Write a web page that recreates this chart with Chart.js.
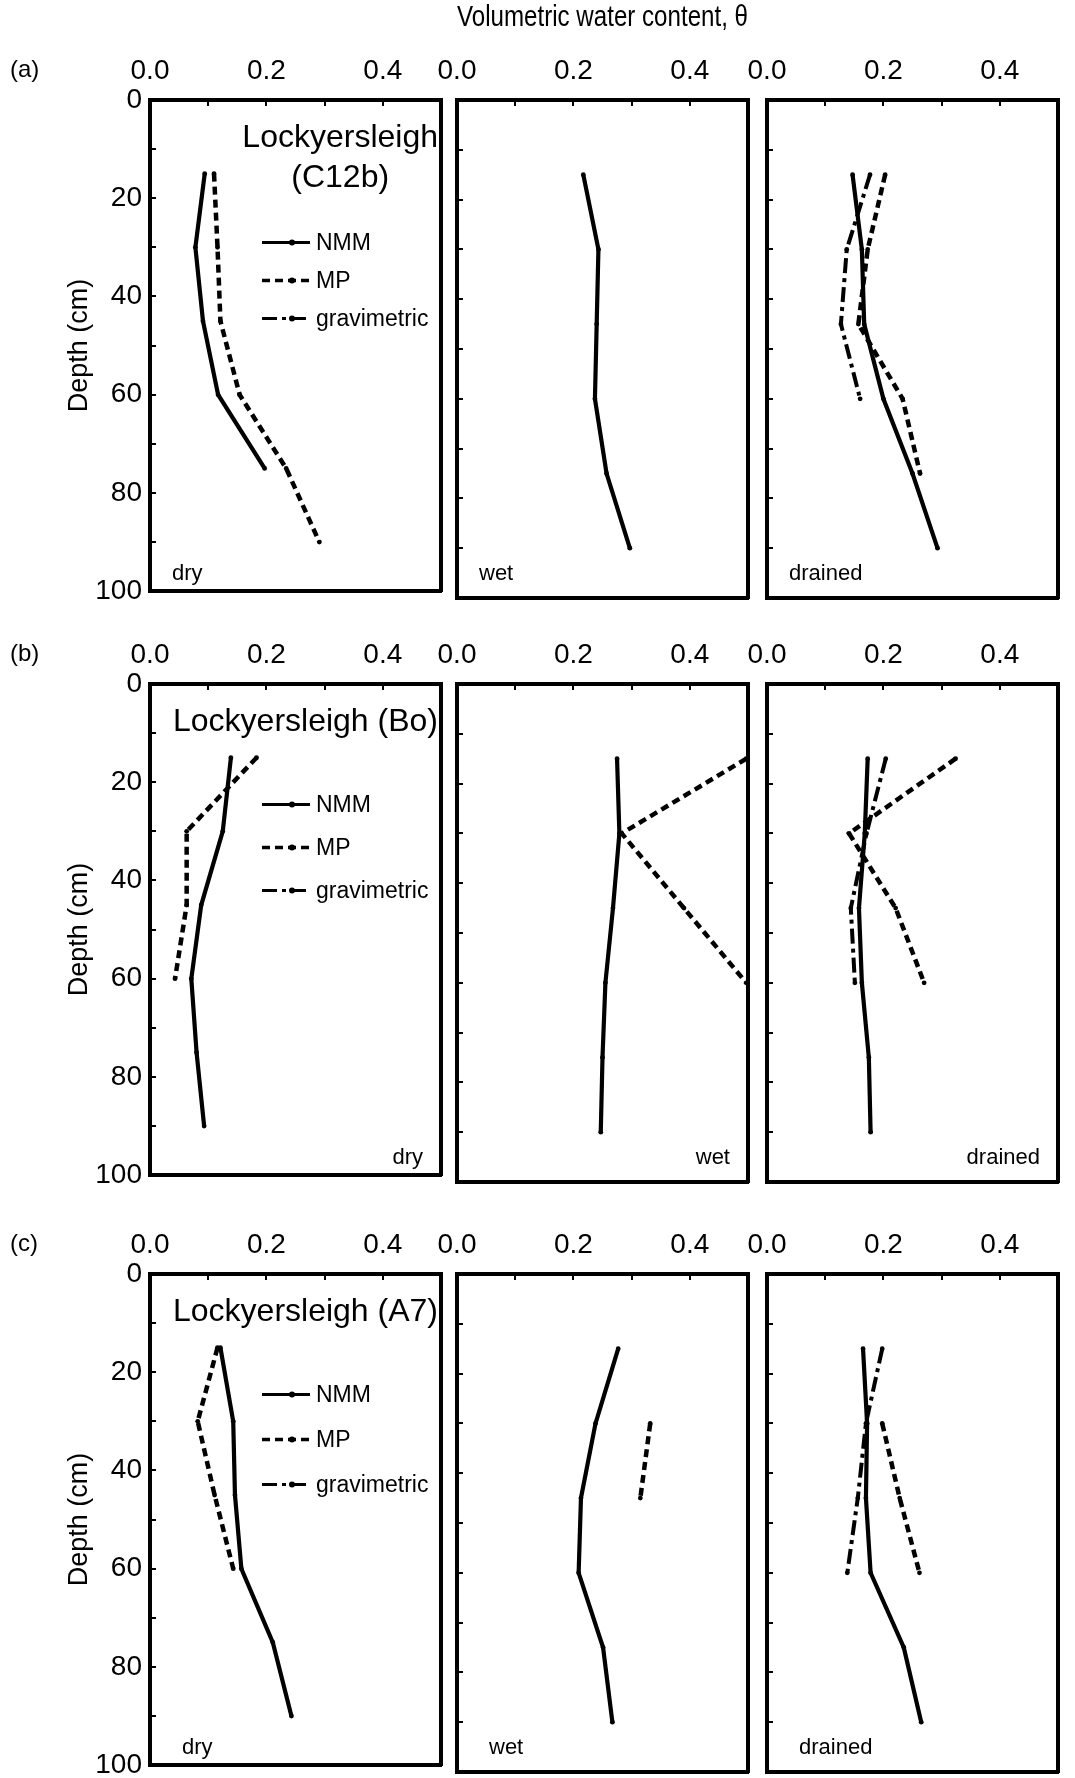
<!DOCTYPE html>
<html>
<head>
<meta charset="utf-8">
<script src="https://cdn.jsdelivr.net/npm/chart.js@4.4.1/dist/chart.umd.min.js"></script>
<style>
  html, body { margin: 0; padding: 0; background: #fff; }
  #fig { position: relative; width: 1075px; height: 1778px; overflow: hidden;
         font-family: "Liberation Sans", Arial, Helvetica, sans-serif; color: #000; }
  #fig canvas { position: absolute; }
  .txt { position: absolute; white-space: nowrap; line-height: 1; transform: translateY(-50%); }
  .leg { position: absolute; display: flex; align-items: center; transform: translateY(-50%); font-size: 23px; }
  .leg svg { margin-right: 6px; }
</style>
</head>
<body>
<div id="fig"></div>
<script>
// depth of each reading (cm)
var depths = [15, 30, 45, 60, 75, 90];

var rowTags = ["(a)", "(b)", "(c)"];
var siteNames = [["Lockyersleigh", "(C12b)"], ["Lockyersleigh (Bo)"], ["Lockyersleigh (A7)"]];
var conditions = ["dry", "wet", "drained"];
var methods = ["NMM", "MP", "gravimetric"];
var thetaLabels = [0, 0.2, 0.4];
var depthLabels = [0, 20, 40, 60, 80, 100];

// (a) Lockyersleigh (C12b), volumetric water content
var c12bDryNMM = [0.094, 0.078, 0.091, 0.117, 0.197, null];
var c12bDryMP = [0.110, 0.116, 0.121, 0.154, 0.234, 0.291];
var c12bWetNMM = [0.217, 0.243, 0.240, 0.237, 0.257, 0.297];
var c12bDrainedNMM = [0.147, 0.163, 0.167, 0.200, 0.250, 0.293];
var c12bDrainedMP = [0.203, 0.173, 0.157, 0.233, 0.263, null];
var c12bDrainedGrav = [0.177, 0.137, 0.127, 0.160, null, null];

// (b) Lockyersleigh (Bo)
var boDryNMM = [0.139, 0.125, 0.088, 0.071, 0.080, 0.093];
var boDryMP = [0.183, 0.063, 0.063, 0.043, null, null];
var boWetNMM = [0.275, 0.279, 0.268, 0.255, 0.250, 0.247];
var boWetMP = [0.497, 0.283, 0.390, 0.497, null, null];
var boDrainedNMM = [0.173, 0.168, 0.158, 0.163, 0.175, 0.178];
var boDrainedMP = [0.324, 0.141, 0.221, 0.270, null, null];
var boDrainedGrav = [0.204, 0.171, 0.144, 0.151, null, null];

// (c) Lockyersleigh (A7)
var a7DryNMM = [0.121, 0.143, 0.146, 0.157, 0.211, 0.243];
var a7DryMP = [0.116, 0.082, 0.111, 0.143, null, null];
var a7WetNMM = [0.277, 0.238, 0.213, 0.209, 0.251, 0.267];
var a7WetMP = [null, 0.332, 0.315, null, null, null];
var a7DrainedNMM = [0.165, 0.172, 0.170, 0.178, 0.235, 0.265];
var a7DrainedMP = [null, 0.198, 0.228, 0.262, null, null];
var a7DrainedGrav = [0.198, 0.170, 0.156, 0.138, null, null];

var panels = [
  [{NMM: c12bDryNMM, MP: c12bDryMP}, {NMM: c12bWetNMM},
   {NMM: c12bDrainedNMM, MP: c12bDrainedMP, gravimetric: c12bDrainedGrav}],
  [{NMM: boDryNMM, MP: boDryMP}, {NMM: boWetNMM, MP: boWetMP},
   {NMM: boDrainedNMM, MP: boDrainedMP, gravimetric: boDrainedGrav}],
  [{NMM: a7DryNMM, MP: a7DryMP}, {NMM: a7WetNMM, MP: a7WetMP},
   {NMM: a7DrainedNMM, MP: a7DrainedMP, gravimetric: a7DrainedGrav}]
];

// layout
var panelLeft = [150, 457, 767];
var rowTop = [100, 684, 1274];
var panelW = 301, panelH = 498;
var legendOffsets = [[142, 180, 218], [120, 163, 206], [120, 165, 210]];

var lineStyle = {
  NMM: {dash: [], width: 4.2},
  MP: {dash: [8, 5], width: 4.5},
  gravimetric: {dash: [15, 5, 4, 5], width: 4}
};

var FONT = "'Liberation Sans', Arial, Helvetica, sans-serif";
Chart.defaults.font.family = FONT;
Chart.defaults.color = "#000";

var fig = document.getElementById("fig");

function addText(html, css) {
  var d = document.createElement("div");
  d.className = "txt";
  d.innerHTML = html;
  for (var k in css) d.style[k] = css[k];
  fig.appendChild(d);
  return d;
}

function toPoints(vals) {
  var pts = [];
  for (var i = 0; i < depths.length; i++) {
    if (vals[i] != null) pts.push({x: vals[i], y: depths[i]});
  }
  return pts;
}

function makePanel(r, c) {
  var padL = c == 0 ? 150 : 40, padR = 8, padT = r == 0 ? 100 : 80, padB = 24;
  var w = panelW + padL + padR, h = panelH + padT + padB;
  var cv = document.createElement("canvas");
  cv.width = w; cv.height = h;
  cv.style.width = w + "px"; cv.style.height = h + "px";
  cv.style.left = (panelLeft[c] - padL) + "px";
  cv.style.top = (rowTop[r] - padT) + "px";
  fig.appendChild(cv);

  var datasets = [];
  methods.forEach(function (m) {
    var vals = panels[r][c][m];
    if (!vals) return;
    datasets.push({
      label: m,
      data: toPoints(vals),
      showLine: true,
      borderColor: "#000",
      backgroundColor: "#000",
      borderWidth: lineStyle[m].width,
      borderDash: lineStyle[m].dash,
      pointRadius: 2.4,
      pointBorderWidth: 0,
      pointBackgroundColor: "#000",
      tension: 0,
      clip: false
    });
  });

  var tickGrid = {display: true, drawOnChartArea: false, drawTicks: true, tickLength: -6, lineWidth: 2, color: "#000"};
  var frame = {display: true, width: 4, color: "#000"};

  new Chart(cv, {
    type: "scatter",
    data: {datasets: datasets},
    options: {
      responsive: false,
      animation: false,
      events: [],
      layout: {padding: 0},
      plugins: {legend: {display: false}, tooltip: {enabled: false}},
      scales: {
        x: {
          type: "linear", position: "top", min: 0, max: 0.5,
          afterFit: function (s) { s.height = padT; },
          ticks: {
            stepSize: 0.1, autoSkip: false, maxRotation: 0, padding: 18,
            font: {size: 28},
            callback: function (v) {
              return thetaLabels.some(function (t) { return Math.abs(t - v) < 1e-6; }) ? v.toFixed(1) : "";
            }
          },
          grid: tickGrid,
          border: frame,
          title: (r == 0 && c == 1) ? {
            display: true, text: "Volumetric water content, \u03b8",
            font: {size: 29}, padding: {top: 1, bottom: 0}
          } : {display: false}
        },
        x2: {
          type: "linear", position: "bottom", min: 0, max: 0.5,
          afterFit: function (s) { s.height = padB; },
          ticks: {display: false},
          grid: {display: false},
          border: frame
        },
        y: {
          type: "linear", position: "left", min: 0, max: 100, reverse: true,
          afterFit: function (s) { s.width = padL; },
          ticks: {
            display: c == 0, stepSize: 10, autoSkip: false, padding: 14,
            font: {size: 28},
            callback: function (v) { return depthLabels.indexOf(Math.round(v)) >= 0 ? Math.round(v) : ""; }
          },
          grid: tickGrid,
          border: frame,
          title: c == 0 ? {
            display: true, text: "Depth (cm)", font: {size: 27}, padding: {top: 63, bottom: 0}
          } : {display: false}
        },
        y2: {
          type: "linear", position: "right", min: 0, max: 100, reverse: true,
          afterFit: function (s) { s.width = padR; },
          ticks: {display: false},
          grid: {display: false},
          border: frame
        }
      }
    }
  });

  // condition label inside the panel
  var cy = (rowTop[r] + panelH - 25) + "px";
  if (r == 1) {
    addText(conditions[c], {fontSize: "22px", top: cy,
      right: (1075 - (panelLeft[c] + panelW - 28)) + "px"});
  } else {
    addText(conditions[c], {fontSize: "22px", top: cy,
      left: (panelLeft[c] + (r == 0 ? 22 : 32)) + "px"});
  }
}

function legendSample(m) {
  var s = lineStyle[m];
  return '<svg width="48" height="12"><line x1="0" y1="6" x2="48" y2="6" stroke="#000" stroke-width="' +
    (s.width - 1) + '" stroke-dasharray="' + (s.dash.length ? s.dash.join(" ") : "none") +
    '"/><circle cx="30" cy="6" r="3" fill="#000"/></svg>';
}

for (var r = 0; r < 3; r++) {
  for (var c = 0; c < 3; c++) makePanel(r, c);

  addText(rowTags[r], {fontSize: "24px", left: "10px", top: (rowTop[r] - 31) + "px"});

  addText(siteNames[r].join("<br>"), {
    fontSize: "32px", lineHeight: "40px", textAlign: "center",
    right: (1075 - 438) + "px", top: (rowTop[r] + 16) + "px", transform: "none"
  });

  methods.forEach(function (m, i) {
    var d = document.createElement("div");
    d.className = "leg";
    d.style.left = "262px";
    d.style.top = (rowTop[r] + legendOffsets[r][i]) + "px";
    d.innerHTML = legendSample(m) + "<span>" + m + "</span>";
    fig.appendChild(d);
  });
}
</script>
</body>
</html>
